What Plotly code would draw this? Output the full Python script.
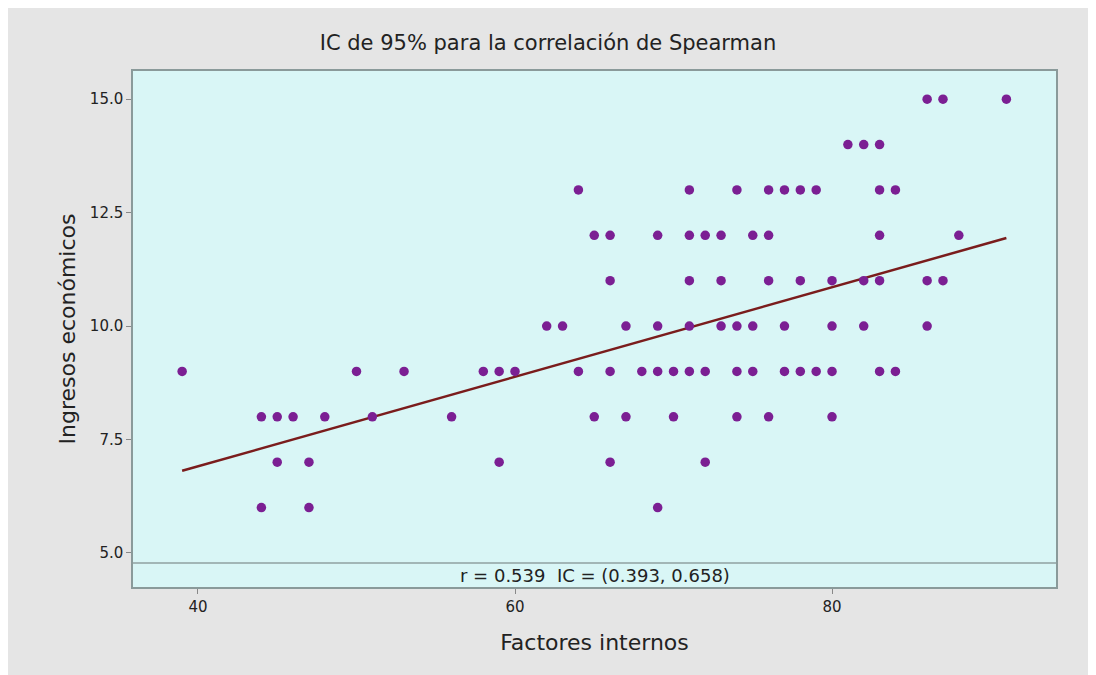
import plotly.graph_objects as go

# Factores internos (x) / Ingresos económicos (y)
factores_internos = [39, 44, 45, 46, 48, 50, 51, 53, 56, 58, 59, 60, 45, 47, 59, 44, 47,
                     64, 71, 74, 76, 77, 78, 79, 83, 84,
                     65, 66, 69, 71, 72, 73, 75, 76, 83, 88,
                     66, 71, 73, 76, 78, 80, 82, 83, 86, 87,
                     62, 63, 67, 69, 71, 73, 74, 75, 77, 80, 82, 86,
                     64, 66, 68, 69, 70, 71, 72, 74, 75, 77, 78, 79, 80, 83, 84,
                     65, 67, 70, 74, 76, 80,
                     66, 72,
                     69,
                     86, 87, 91,
                     81, 82, 83]
ingresos = [9, 8, 8, 8, 8, 9, 8, 9, 8, 9, 9, 9, 7, 7, 7, 6, 6,
            13, 13, 13, 13, 13, 13, 13, 13, 13,
            12, 12, 12, 12, 12, 12, 12, 12, 12, 12,
            11, 11, 11, 11, 11, 11, 11, 11, 11, 11,
            10, 10, 10, 10, 10, 10, 10, 10, 10, 10, 10, 10,
            9, 9, 9, 9, 9, 9, 9, 9, 9, 9, 9, 9, 9, 9, 9,
            8, 8, 8, 8, 8, 8,
            7, 7,
            6,
            15, 15, 15,
            14, 14, 14]

# fitted line as drawn in the reference (ends)
fit_x = [39, 91]
fit_y = [6.81, 11.94]

x_ticks = [40, 60, 80]
y_ticks = [5.0, 7.5, 10.0, 12.5, 15.0]
stats_text = "r = 0.539  IC = (0.393, 0.658)"

fig = go.Figure()
fig.add_trace(go.Scatter(x=fit_x, y=fit_y, mode='lines',
                         line=dict(color='#7a1c1c', width=2.5), hoverinfo='skip'))
fig.add_trace(go.Scatter(x=factores_internos, y=ingresos, mode='markers',
                         marker=dict(size=9.5, color='#7b1f93')))

# separator for the statistics strip at the bottom of the plot area
fig.add_shape(type='line', xref='paper', yref='y', x0=0, x1=1, y0=4.78, y1=4.78,
              line=dict(color='#8fa0a0', width=1.5))
fig.add_annotation(text=stats_text, xref='paper', yref='y', x=0.5, y=4.51,
                   showarrow=False, font=dict(size=18, color='#222222'))

fig.update_layout(
    width=1096, height=675, showlegend=False,
    margin=dict(l=125, r=48, t=63, b=96),
    paper_bgcolor='#e5e5e5', plot_bgcolor='#d9f6f6',
    font=dict(family='DejaVu Sans', size=15, color='#222222'),
    title=dict(text='IC de 95% para la correlación de Spearman', x=0.4927, xref='container',
               xanchor='center', y=0.948, yanchor='middle',
               font=dict(size=21, color='#222222')),
)
fig.update_xaxes(range=[35.9, 94.13], tickvals=x_ticks, ticks='outside', ticklen=5,
                 tickcolor='#888888', showgrid=False, zeroline=False,
                 showline=True, mirror=True, linecolor='#8a9a9a', linewidth=1.5,
                 title=dict(text='Factores internos', font=dict(size=22), standoff=20))
fig.update_yaxes(range=[4.25, 15.62], tickvals=y_ticks, tickformat='.1f', ticks='outside',
                 ticklen=5, tickcolor='#888888', showgrid=False, zeroline=False,
                 showline=True, mirror=True, linecolor='#8a9a9a', linewidth=1.5,
                 title=dict(text='Ingresos económicos', font=dict(size=22), standoff=8))

fig.write_html("out.html")
